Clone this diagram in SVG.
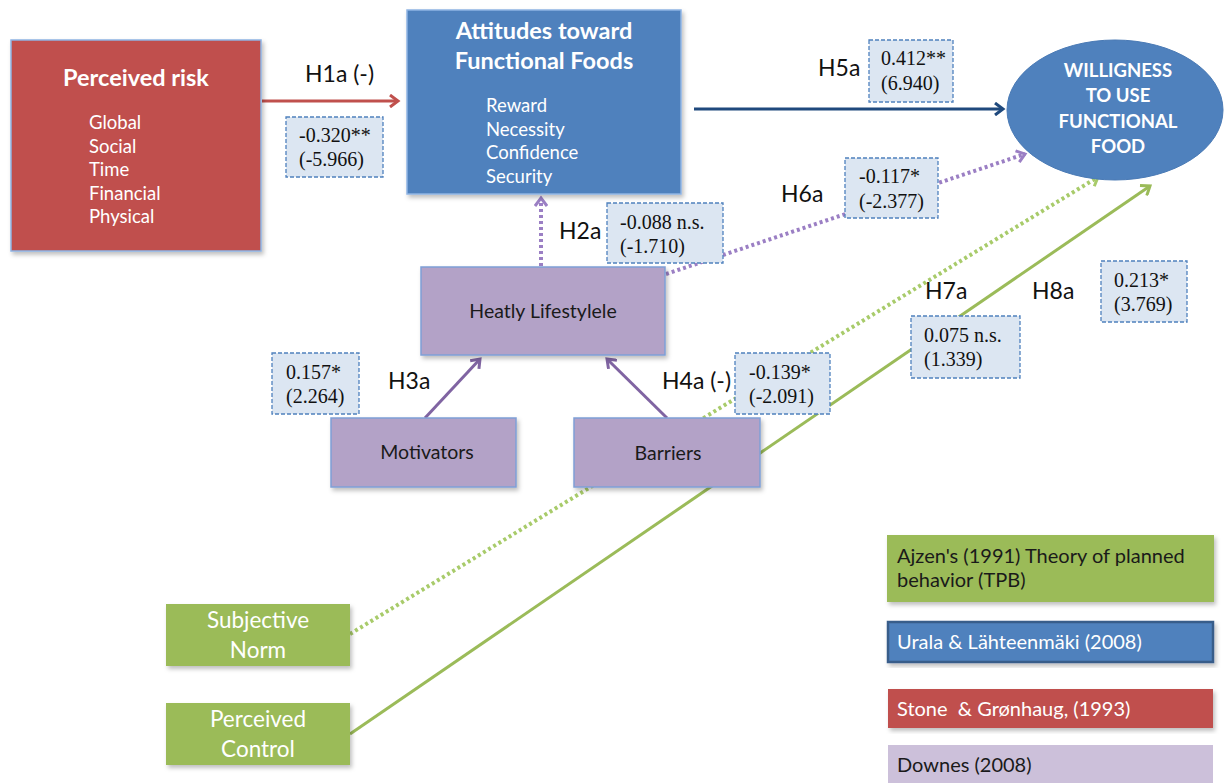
<svg xmlns="http://www.w3.org/2000/svg" width="1226" height="783" viewBox="0 0 1226 783">
<style>
.sans{font-family:Lato,"Open Sans","Liberation Sans",sans-serif}
.w{fill:#fff}
.d{fill:#1a1a1a}
.title{font-weight:bold;font-size:23.5px}
.item{font-size:18.5px}
.hl{font-size:23px;fill:#111}
.val{font-family:"Liberation Serif",serif;font-size:20px;fill:#111}
.vbox{fill:#DCE6F2;stroke:#4F81BD;stroke-width:1.3;stroke-dasharray:4 2}
.red{fill:#C0504D;stroke:#8EB4E3;stroke-width:1.5}
.blue{fill:#4F81BD;stroke:#8EB4E3;stroke-width:1.5}
.pur{fill:#B3A2C7;stroke:#7F9FD6;stroke-width:1.5}
.grn{fill:#9BBB59}
</style>
<defs>
<filter id="sh" x="-5%" y="-5%" width="115%" height="120%">
<feDropShadow dx="2" dy="3" stdDeviation="2" flood-color="#000" flood-opacity="0.25"/>
</filter>
<marker id="aR" markerWidth="14" markerHeight="14" refX="10" refY="7" orient="auto" markerUnits="userSpaceOnUse"><path d="M2,1 L10,7 L2,13" fill="none" stroke="#C0504D" stroke-width="3"/></marker>
<marker id="aB" markerWidth="14" markerHeight="14" refX="10" refY="7" orient="auto" markerUnits="userSpaceOnUse"><path d="M2,1 L10,7 L2,13" fill="none" stroke="#1F497D" stroke-width="3"/></marker>
<marker id="aP" markerWidth="14" markerHeight="14" refX="10" refY="7" orient="auto" markerUnits="userSpaceOnUse"><path d="M2,1 L10,7 L2,13" fill="none" stroke="#8064A2" stroke-width="3"/></marker>
<marker id="aPd" markerWidth="14" markerHeight="14" refX="10" refY="7" orient="auto" markerUnits="userSpaceOnUse"><path d="M2,1 L10,7 L2,13" fill="none" stroke="#9B7FC4" stroke-width="3"/></marker>
<marker id="aG" markerWidth="14" markerHeight="14" refX="10" refY="7" orient="auto" markerUnits="userSpaceOnUse"><path d="M2,1 L10,7 L2,13" fill="none" stroke="#9BBB59" stroke-width="3"/></marker>
<marker id="aGd" markerWidth="14" markerHeight="14" refX="10" refY="7" orient="auto" markerUnits="userSpaceOnUse"><path d="M2,1 L10,7 L2,13" fill="none" stroke="#A8CB6A" stroke-width="3"/></marker>
</defs>
<rect width="1226" height="783" fill="#fff"/>

<g id="connectors">
<line x1="262" y1="101" x2="398" y2="101" stroke="#C0504D" stroke-width="3" marker-end="url(#aR)"/>
<line x1="694" y1="109" x2="1003" y2="109" stroke="#1F497D" stroke-width="3" marker-end="url(#aB)"/>
<line x1="541" y1="266" x2="541" y2="198" stroke="#9B7FC4" stroke-width="4" stroke-dasharray="3 3" marker-end="url(#aPd)"/>
<line x1="666" y1="274" x2="1025" y2="154" stroke="#9B7FC4" stroke-width="4" stroke-dasharray="3 3" marker-end="url(#aPd)"/>
<line x1="425" y1="418" x2="480" y2="359" stroke="#8064A2" stroke-width="3" marker-end="url(#aP)"/>
<line x1="667" y1="418" x2="607" y2="359" stroke="#8064A2" stroke-width="3" marker-end="url(#aP)"/>
<line x1="350" y1="634" x2="1098" y2="177" stroke="#A8CB6A" stroke-width="4" stroke-dasharray="3 3" marker-end="url(#aGd)"/>
<line x1="350" y1="734" x2="1150" y2="186" stroke="#9BBB59" stroke-width="3" marker-end="url(#aG)"/>
</g>

<g id="perceived-risk">
<rect x="11" y="40" width="250" height="211" class="red" filter="url(#sh)"/>
<text x="136" y="86" text-anchor="middle" class="sans w title">Perceived risk</text>
<text class="sans w item"><tspan x="89" y="129">Global</tspan><tspan x="89" y="153">Social</tspan><tspan x="89" y="176">Time</tspan><tspan x="89" y="200">Financial</tspan><tspan x="89" y="223">Physical</tspan></text>
</g>

<g id="attitudes">
<rect x="407" y="10" width="274" height="184" class="blue" filter="url(#sh)"/>
<text x="544" y="39" text-anchor="middle" class="sans w title">Attitudes toward</text>
<text x="544" y="69" text-anchor="middle" class="sans w title">Functional Foods</text>
<text class="sans w item"><tspan x="486" y="112">Reward</tspan><tspan x="486" y="136">Necessity</tspan><tspan x="486" y="159">Confidence</tspan><tspan x="486" y="183">Security</tspan></text>
</g>

<g id="willingness">
<ellipse cx="1115" cy="110" rx="108" ry="70" fill="#4F81BD" stroke="#4A7AB5" stroke-width="1"/>
<text text-anchor="middle" class="sans w" font-weight="bold" font-size="18.5"><tspan x="1118" y="77">WILLIGNESS</tspan><tspan x="1118" y="102">TO USE</tspan><tspan x="1118" y="128">FUNCTIONAL</tspan><tspan x="1118" y="153">FOOD</tspan></text>
</g>

<g id="healthy-lifestyle">
<rect x="421" y="267" width="244" height="88" class="pur" filter="url(#sh)"/>
<text x="543" y="318" text-anchor="middle" class="sans d" font-size="19.5">Heatly Lifestylele</text>
</g>

<g id="motivators">
<rect x="331" y="418" width="185" height="69" class="pur" filter="url(#sh)"/>
<text x="427" y="459" text-anchor="middle" class="sans d" font-size="19.5">Motivators</text>
</g>

<g id="barriers">
<rect x="574" y="418" width="186" height="69" class="pur" filter="url(#sh)"/>
<text x="668" y="460" text-anchor="middle" class="sans d" font-size="19.5">Barriers</text>
</g>

<g id="subjective-norm">
<rect x="166" y="604" width="184" height="62" class="grn" filter="url(#sh)"/>
<text text-anchor="middle" class="sans w" font-size="22.5"><tspan x="258" y="628">Subjective</tspan><tspan x="258" y="658">Norm</tspan></text>
</g>

<g id="perceived-control">
<rect x="166" y="703" width="184" height="62" class="grn" filter="url(#sh)"/>
<text text-anchor="middle" class="sans w" font-size="22.5"><tspan x="258" y="727">Perceived</tspan><tspan x="258" y="757">Control</tspan></text>
</g>

<g id="labels">
<text x="305" y="82" class="sans hl">H1a (-)</text>
<text x="818" y="76" class="sans hl">H5a</text>
<text x="781" y="202" class="sans hl">H6a</text>
<text x="559" y="239" class="sans hl">H2a</text>
<text x="388" y="389" class="sans hl">H3a</text>
<text x="662" y="389" class="sans hl">H4a (-)</text>
<text x="925" y="299" class="sans hl">H7a</text>
<text x="1032" y="299" class="sans hl">H8a</text>
</g>

<g id="values">
<rect x="286" y="117" width="97" height="60" class="vbox"/>
<text class="val"><tspan x="299" y="142">-0.320**</tspan><tspan x="299" y="166">(-5.966)</tspan></text>
<rect x="869" y="40" width="84" height="62" class="vbox"/>
<text class="val"><tspan x="881" y="65">0.412**</tspan><tspan x="881" y="90">(6.940)</tspan></text>
<rect x="845" y="158" width="93" height="60" class="vbox"/>
<text class="val"><tspan x="859" y="183">-0.117*</tspan><tspan x="859" y="208">(-2.377)</tspan></text>
<rect x="607" y="203" width="116" height="60" class="vbox"/>
<text class="val"><tspan x="620" y="229">-0.088 n.s.</tspan><tspan x="620" y="253">(-1.710)</tspan></text>
<rect x="272" y="353" width="87" height="61" class="vbox"/>
<text class="val"><tspan x="286" y="379">0.157*</tspan><tspan x="286" y="403">(2.264)</tspan></text>
<rect x="735" y="353" width="95" height="61" class="vbox"/>
<text class="val"><tspan x="749" y="379">-0.139*</tspan><tspan x="749" y="403">(-2.091)</tspan></text>
<rect x="911" y="316" width="109" height="62" class="vbox"/>
<text class="val"><tspan x="924" y="342">0.075 n.s.</tspan><tspan x="924" y="366">(1.339)</tspan></text>
<rect x="1101" y="261" width="86" height="61" class="vbox"/>
<text class="val"><tspan x="1114" y="287">0.213*</tspan><tspan x="1114" y="311">(3.769)</tspan></text>
</g>

<g id="legend-ajzen">
<rect x="887" y="535" width="327" height="67" fill="#9BBB59" filter="url(#sh)"/>
<text class="sans d" font-size="20"><tspan x="897" y="563">Ajzen's (1991) Theory of planned</tspan><tspan x="897" y="587">behavior (TPB)</tspan></text>
</g>
<g id="legend-urala">
<rect x="888" y="622" width="325" height="40" fill="#4F81BD" stroke="#385D8A" stroke-width="2.5" filter="url(#sh)"/>
<text x="897" y="649" class="sans w" font-size="20">Urala &amp; Lähteenmäki (2008)</text>
</g>
<g id="legend-stone">
<rect x="888" y="689" width="325" height="39" fill="#C0504D" filter="url(#sh)"/>
<text x="897" y="716" class="sans w" font-size="20" xml:space="preserve">Stone  &amp; Grønhaug, (1993)</text>
</g>
<g id="legend-downes">
<rect x="888" y="745" width="325" height="45" fill="#CCC0DA"/>
<text x="897" y="772" class="sans d" font-size="20">Downes (2008)</text>
</g>
</svg>
